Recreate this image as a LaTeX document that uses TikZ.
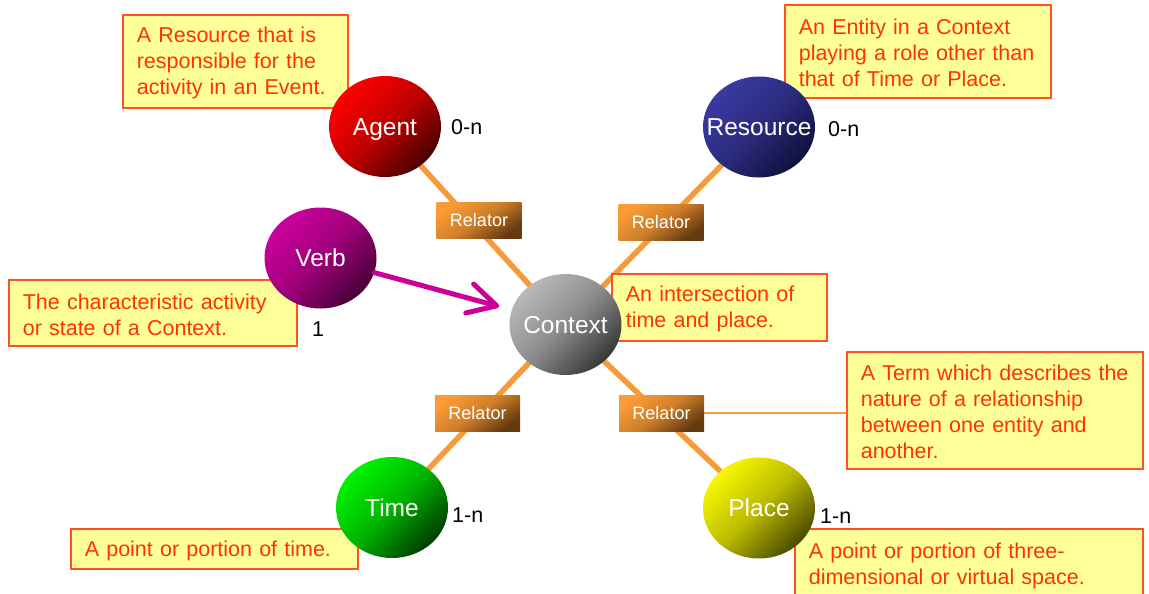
\documentclass[tikz,border=0pt]{standalone}
\usepackage{fontspec}
\setmainfont{Liberation Sans}
\usetikzlibrary{shapes.geometric,arrows.meta}
\pgfdeclarelayer{background}
\pgfsetlayers{background,main}

\definecolor{notefill}{HTML}{FFFF99}
\definecolor{noteedge}{HTML}{FF5222}
\definecolor{notetext}{HTML}{FF3300}
\definecolor{linkorange}{HTML}{F89A3A}
\definecolor{relhi}{HTML}{FA9B35}
\definecolor{rello}{HTML}{653A10}
\definecolor{verbline}{HTML}{CC0099}
\definecolor{agenthi}{HTML}{FF0000}
\definecolor{agentlo}{HTML}{4A0000}
\definecolor{reshi}{HTML}{3A3AA2}
\definecolor{reslo}{HTML}{10103C}
\definecolor{verbhi}{HTML}{CC009E}
\definecolor{verblo}{HTML}{480036}
\definecolor{ctxhi}{HTML}{B8B8B8}
\definecolor{ctxlo}{HTML}{383838}
\definecolor{timehi}{HTML}{00F400}
\definecolor{timelo}{HTML}{003C00}
\definecolor{placehi}{HTML}{F8F800}
\definecolor{placelo}{HTML}{4A4A00}

% label set in a zero-width box so that the ellipse keeps its fixed size
\newcommand{\balllabel}[1]{\makebox[0pt]{#1}}

\tikzset{
  ball/.style n args={2}{ellipse, minimum width=112pt, minimum height=101pt,
    inner sep=0pt, draw=none, text=white,
    text height=17.5pt, text depth=0pt,
    font=\fontsize{24.5}{28}\selectfont,
    top color=#1, bottom color=#2, middle color=#1!65!#2, shading angle=45},
  relator/.style={rectangle, minimum width=85pt, minimum height=36pt,
    inner sep=0pt, text=white, font=\fontsize{18}{20}\selectfont,
    text height=13pt, text depth=0pt,
    top color=relhi, bottom color=rello, middle color=relhi!70!rello,
    shading angle=35},
  note/.style n args={2}{rectangle, anchor=north west, fill=notefill,
    draw=noteedge, line width=1.6pt, text=notetext, align=left,
    inner xsep=14pt, inner ysep=0pt,
    text width=#1pt-28pt, minimum height=#2pt,
    execute at begin node={\rule{0pt}{19.6pt}},
    font=\fontsize{21.5}{26}\selectfont},
  card/.style={anchor=base west, inner sep=0pt, text=black,
    font=\fontsize{21.5}{26}\selectfont},
  link/.style={draw=linkorange, line width=5.5pt},
  thinlink/.style={draw=linkorange, line width=2pt},
  verbarrow/.style={draw=verbline, line width=5pt, line cap=round,
    -{Straight Barb[length=28pt, width=30pt, round]}, shorten >=13pt}
}

\begin{document}
\begin{tikzpicture}[x=1pt, y=-1pt]
\useasboundingbox (0,0) rectangle (1149,594);

% description notes
\node[note={225}{93}]  (agentnote)    at (122,14)  {A Resource that is\\responsible for the\\activity in an Event.};
\node[note={266}{93}]  (resourcenote) at (784,4)   {An Entity in a Context\\playing a role other than\\that of Time or Place.};
\node[note={288}{66}]  (verbnote)     at (8,279)   {The characteristic activity\\or state of a Context.};
\node[note={215}{67}]  (contextnote)  at (611,273) {An intersection of\\time and place.};
\node[note={296}{117}] (relnote)      at (846,351) {A Term which describes the\\nature of a relationship\\between one entity and\\another.};
\node[note={287}{40}]  (timenote)     at (70,528)  {A point or portion of time.};
\node[note={348}{70}]  (placenote)    at (794,528) {A point or portion of three-\\dimensional or virtual space.};

% concept nodes
\node[ball={agenthi}{agentlo}] (agent)    at (385,126.5)   {\balllabel{Agent}};
\node[ball={reshi}{reslo}]     (resource) at (759,127)     {\balllabel{Resource}};
\node[ball={verbhi}{verblo}]   (verb)     at (320.5,258)   {\balllabel{Verb}};
\node[ball={ctxhi}{ctxlo}]     (context)  at (565.5,324.5) {\balllabel{Context}};
\node[ball={timehi}{timelo}]   (time)     at (392,507.5)   {\balllabel{Time}};
\node[ball={placehi}{placelo}] (place)    at (759,508)     {\balllabel{Place}};

% relators
\node[relator] (relA) at (479,220)   {Relator};
\node[relator] (relR) at (661,222)   {Relator};
\node[relator] (relT) at (477.5,413) {Relator};
\node[relator] (relP) at (661.5,413) {Relator};

% cardinalities
\node[card] (cardA) at (451,134) {0-n};
\node[card] (cardR) at (828,136) {0-n};
\node[card] (cardV) at (312,336) {1};
\node[card] (cardT) at (452,522) {1-n};
\node[card] (cardP) at (820,523) {1-n};

% connectors behind everything
\begin{pgfonlayer}{background}
  \draw[link] (agent.center) -- (context.center);
  \draw[link] (resource.center) -- (context.center);
  \draw[link] (time.center) -- (context.center);
  \draw[link] (place.center) -- (context.center);
  \draw[thinlink] (relP.east) -- (relP.east -| relnote.west);
\end{pgfonlayer}

% verb characterises the context
\draw[verbarrow] (verb) -- (context);
\end{tikzpicture}
\end{document}
